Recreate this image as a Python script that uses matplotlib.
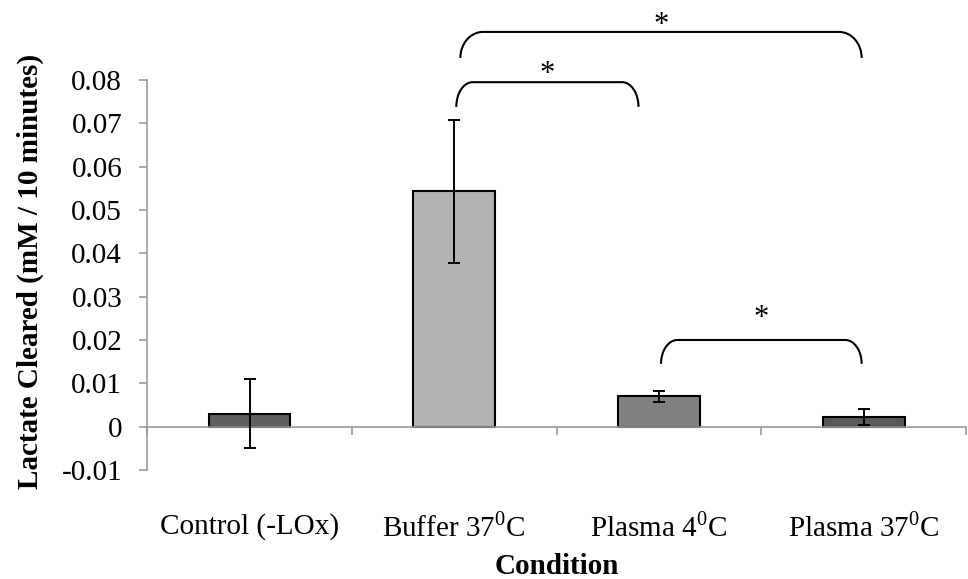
import matplotlib.pyplot as plt
from matplotlib.path import Path
from matplotlib.patches import PathPatch
import matplotlib.transforms as mtransforms

plt.rcParams['font.family'] = ['Liberation Serif', 'DejaVu Serif']
plt.rcParams['mathtext.fontset'] = 'custom'
plt.rcParams['mathtext.rm'] = 'Liberation Serif'

conditions = ["Control (-LOx)", r"Buffer 37$^{0}$C", r"Plasma 4$^{0}$C", r"Plasma 37$^{0}$C"]
lactate = [0.0030, 0.0543, 0.0070, 0.0022]
errors = [0.0080, 0.0165, 0.0012, 0.0019]
bar_colors = ["#5f5f5f", "#b3b3b3", "#808080", "#595959"]

y_ticks = [-0.01, 0, 0.01, 0.02, 0.03, 0.04, 0.05, 0.06, 0.07, 0.08]
y_ticklabels = ["-0.01", "0", "0.01", "0.02", "0.03", "0.04", "0.05", "0.06", "0.07", "0.08"]

# significance brackets: (left x, right x, bottom of ends, top line, star height)
brackets = [
    (1.03, 2.99, 0.0851, 0.0911, 0.0926),
    (1.01, 1.90, 0.0738, 0.0795, 0.0813),
    (2.01, 2.99, 0.0145, 0.0200, 0.0250),
]

FS = 21


def bracket_path(x0, x1, ybot, ytop, rx):
    k = 0.5523
    h = ytop - ybot
    verts = [
        (x0, ybot),
        (x0, ybot + k * h), (x0 + rx * (1 - k), ytop), (x0 + rx, ytop),
        (x1 - rx, ytop),
        (x1 - rx * (1 - k), ytop), (x1, ybot + k * h), (x1, ybot),
    ]
    codes = [Path.MOVETO, Path.CURVE4, Path.CURVE4, Path.CURVE4,
             Path.LINETO, Path.CURVE4, Path.CURVE4, Path.CURVE4]
    return Path(verts, codes)


fig = plt.figure(figsize=(9.68, 5.79), dpi=100)
ax = fig.add_axes([0.152, 0.1883, 0.846, 0.6735])

xs = list(range(len(conditions)))
ax.bar(xs, lactate, width=0.4, color=bar_colors, edgecolor="black", linewidth=1.5, zorder=2)
ax.errorbar(xs, lactate, yerr=errors, fmt="none", ecolor="black", elinewidth=1.4,
            capsize=4.3, capthick=1.4, zorder=3)

ax.set_xlim(-0.5, 3.5)
ax.set_ylim(-0.01, 0.08)
ax.set_yticks(y_ticks)
ax.set_yticklabels(y_ticklabels, fontsize=FS)
ax.set_xticks([-0.5, 0.5, 1.5, 2.5, 3.5])
ax.set_xticklabels([])

for side in ["top", "right"]:
    ax.spines[side].set_visible(False)
ax.spines["bottom"].set_position(("data", 0))
ax.spines["left"].set_color("#9a9a9a")
ax.spines["bottom"].set_color("#9a9a9a")
ax.spines["left"].set_linewidth(1.2)
ax.spines["bottom"].set_linewidth(1.2)
ax.tick_params(axis="y", direction="out", length=6, width=1.2, color="#9a9a9a", pad=12)
ax.tick_params(axis="x", direction="out", length=6, width=1.2, color="#9a9a9a")

# category labels sit below the plot area
trans = mtransforms.blended_transform_factory(ax.transData, ax.transAxes)
for x, name in zip(xs, conditions):
    ax.text(x, -57 / 390, name, transform=trans, ha="center", va="center", fontsize=FS)

ax.text(0.5, -97 / 390, "Condition", transform=ax.transAxes, ha="center", va="center",
        fontsize=FS, fontweight="bold")
fig.text(30 / 968, 1 - 271 / 579, "Lactate Cleared (mM / 10 minutes)", rotation=90,
         ha="center", va="center", fontsize=FS, fontweight="bold")

for x0, x1, ybot, ytop, ystar in brackets:
    rx = 0.11 if x1 - x0 > 1.5 else 0.08
    ax.add_patch(PathPatch(bracket_path(x0, x1, ybot, ytop, rx), facecolor="none",
                           edgecolor="black", linewidth=1.5, clip_on=False))
    ax.text((x0 + x1) / 2, ystar, "*", ha="center", va="center", fontsize=22, clip_on=False)

fig.savefig("out.png", dpi=100)
